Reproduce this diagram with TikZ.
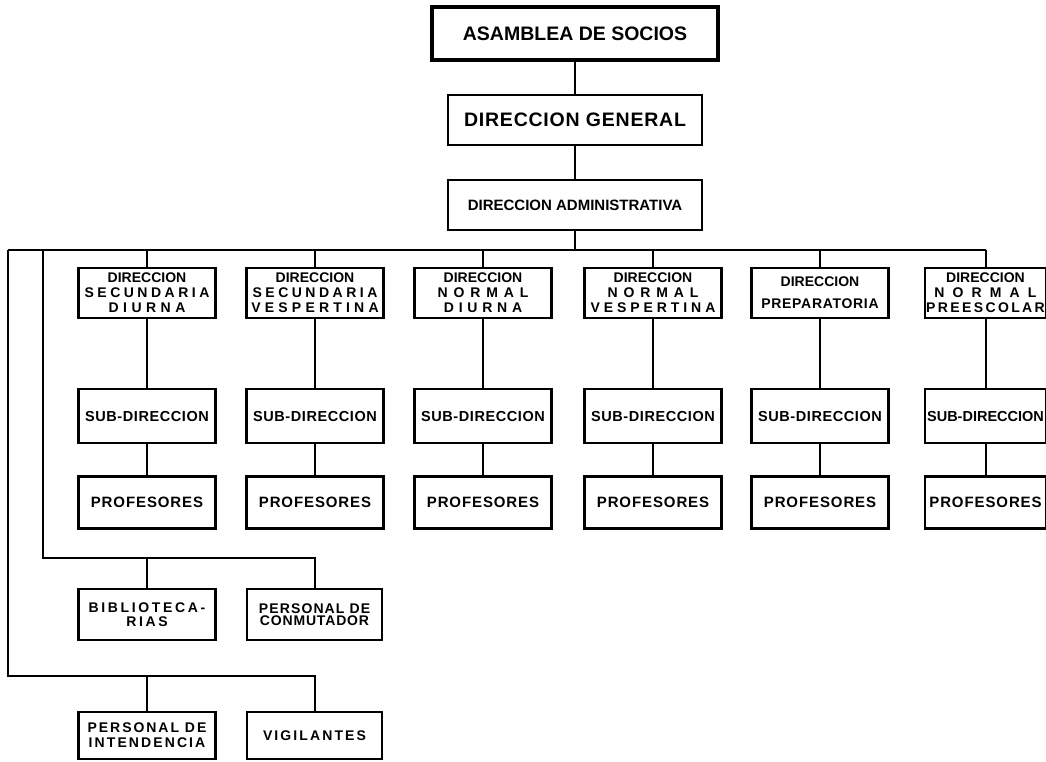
\documentclass[tikz,border=0pt]{standalone}
\usepackage{fontspec}
\setmainfont{Liberation Sans}
\usetikzlibrary{positioning}
\newcommand{\trk}[2]{{\addfontfeature{LetterSpace=#1}#2}}

\begin{document}
\begin{tikzpicture}[x=1pt, y=-1pt, line join=miter,
  every node/.style={font=\bfseries},
  box/.style={draw, line width=2.2pt, align=center, inner sep=0pt, minimum width=137pt, minimum height=50pt,
    font=\bfseries\fontsize{14}{15}\selectfont},
  topbox/.style={box, minimum height=50pt, font=\bfseries\fontsize{19.5}{22}\selectfont},
  link/.style={line width=2pt}]
  \useasboundingbox (0,0) rectangle (1046,761);
  % top of the chart
  \node[topbox, line width=3.5pt, minimum width=286pt, minimum height=53pt] (asa) at (575,33.5) {ASAMBLEA DE SOCIOS};
  \node[topbox, minimum width=254pt] (gen) at (575,120) {\trk{4}{DIRECCION GENERAL}};
  \node[topbox, minimum width=254pt, font=\bfseries\fontsize{15}{17}\selectfont] (adm) at (575,205) {DIRECCION ADMINISTRATIVA};
  \draw[link] (asa) -- (gen);
  \draw[link] (gen) -- (adm);
  % main line
  \coordinate (busL) at (8,250);
  \coordinate (busM) at (43,250);
  \draw[link] (adm.south) -- (adm.south |- busL);
  % direcciones
  \node[box] (d1) at (147,293) {DIRECCION\\\trk{25}{SECUNDARIA}\\\trk{32}{DIURNA}};
  \node[box] (d2) at (315,293) {DIRECCION\\\trk{25}{SECUNDARIA}\\\trk{30}{VESPERTINA}};
  \node[box] (d3) at (483,293) {DIRECCION\\\trk{42}{NORMAL}\\\trk{34}{DIURNA}};
  \node[box] (d4) at (653,293) {DIRECCION\\\trk{42}{NORMAL}\\\trk{28}{VESPERTINA}};
  \node[box, font=\bfseries\fontsize{14}{22}\selectfont] (d5) at (820,293) {DIRECCION\\\trk{5}{PREPARATORIA}};
  \node[box, minimum width=121pt] (d6) at (985.5,293) {DIRECCION\\\trk{58}{NORMAL}\\\trk{17}{PREESCOLAR}};
  \draw[link] (busL) -- (d6.north |- busL);
  \foreach \i/\w/\sp in {1/137/4,2/137/4,3/137/4,4/137/4,5/137/4,6/121/0} {
    \node[box, minimum width=\w pt, minimum height=54pt, font=\bfseries\fontsize{14.5}{17}\selectfont, below=69pt of d\i] (s\i) {\trk{\sp}{SUB-DIRECCION}};
    \node[box, minimum width=\w pt, minimum height=52pt, font=\bfseries\fontsize{15}{17}\selectfont, below=31pt of s\i] (p\i) {\trk{6}{PROFESORES}};
    \draw[link] (d\i.north |- busL) -- (d\i.north);
    \draw[link] (d\i) -- (s\i);
    \draw[link] (s\i) -- (p\i);
  }
  % personal de apoyo
  \coordinate (lb) at (43,558);
  \coordinate (la) at (8,676);
  \node[box, minimum height=51pt, font=\bfseries\fontsize{14}{13.5}\selectfont] (bib) at (147,614.5) {\trk{19}{BIBLIOTECA-}\\\trk{19}{RIAS}};
  \node[box, minimum width=135pt, minimum height=51pt, font=\bfseries\fontsize{14}{12.5}\selectfont] (conm) at (314.5,614.5) {\trk{8}{PERSONAL DE}\\\trk{6}{CONMUTADOR}};
  \node[box, minimum height=47pt] (int) at (147,735.5) {\trk{14}{PERSONAL DE}\\\trk{15}{INTENDENCIA}};
  \node[box, minimum width=135pt, minimum height=47pt] (vig) at (314.5,735.5) {\trk{15}{VIGILANTES}};
  \draw[link] (busM) |- (conm.north |- lb) -- (conm.north);
  \draw[link] (bib.north) -- (bib.north |- lb);
  \draw[link] (busL) |- (vig.north |- la) -- (vig.north);
  \draw[link] (int.north) -- (int.north |- la);
\end{tikzpicture}
\end{document}
